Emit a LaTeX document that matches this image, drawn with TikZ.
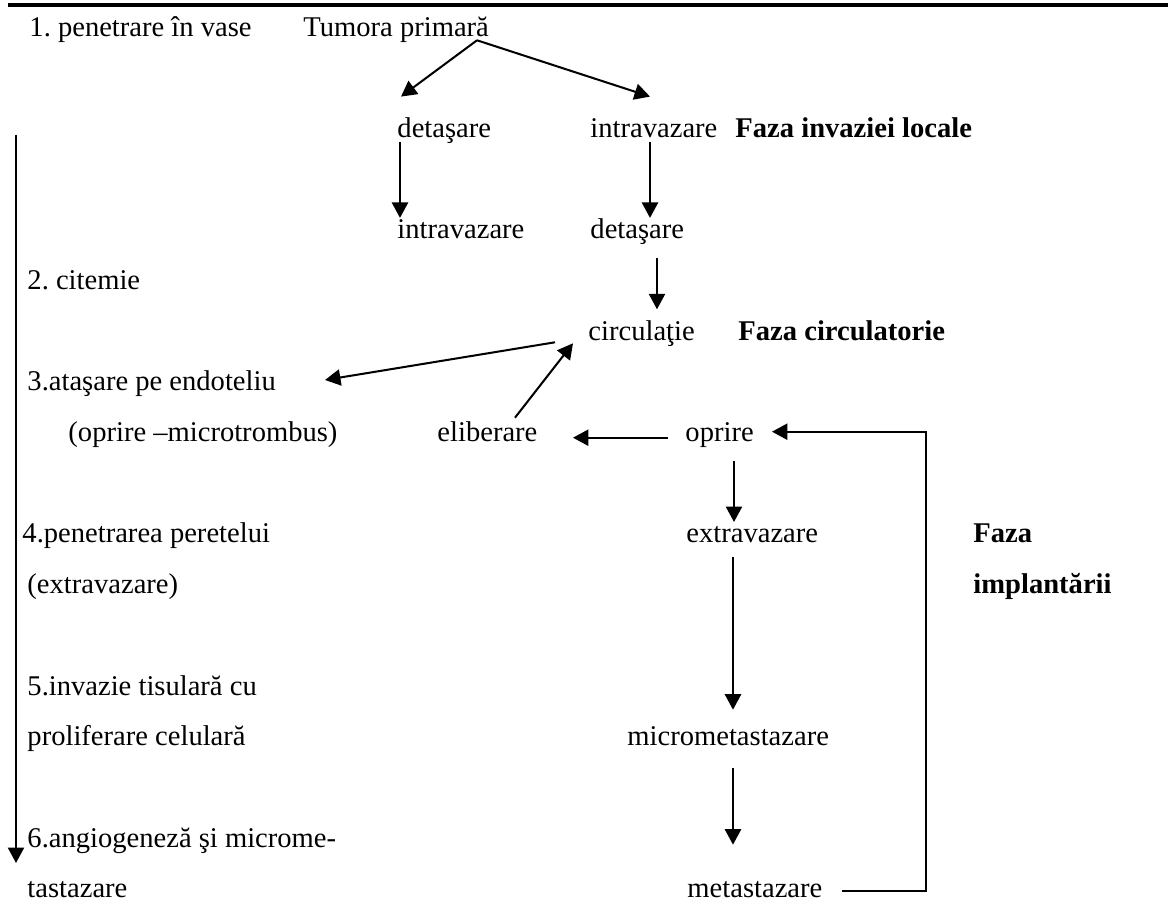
\documentclass[tikz,border=0pt]{standalone}
\usepackage{fontspec}
\setmainfont{Liberation Serif}
\usetikzlibrary{arrows.meta}

\begin{document}
\frenchspacing
\begin{tikzpicture}[x = 0.42pt, y = -0.42pt,
        lbl/.style = {anchor = base west, inner sep = 0pt, font = \fontsize{12}{14}\selectfont},
        faza/.style = {lbl, font = \fontsize{12}{14}\selectfont\bfseries},
        arr/.style = {-{Triangle[length = 6.5pt, width = 6.8pt]}, line width = 0.85pt}]
        \useasboundingbox (0, 0) rectangle (1168, 921);
        \draw [line width = 1.7pt] (8, 5) -- (1168, 5);
        % column of the stages
        \node [lbl] (pen1) at (29, 36.3) {1. penetrare în vase};
        \node [lbl] (cit) at (27, 289.6) {2. citemie};
        \node [lbl] (atas) at (27, 391) {3.ataşare pe endoteliu};
        \node [lbl] (opmicro) at (68, 441.7) {(oprire –microtrombus)};
        \node [lbl] (pen4) at (22, 543) {4.penetrarea peretelui};
        \node [lbl] (extrav4) at (27, 593.7) {(extravazare)};
        \node [lbl] (inv5) at (27, 695.1) {5.invazie tisulară cu};
        \node [lbl] (prolif) at (27, 745.7) {proliferare celulară};
        \node [lbl] (ang6) at (27, 847.1) {6.angiogeneză şi microme-};
        \node [lbl] (tast) at (27, 897.7) {tastazare};
        \coordinate (phtop) at (16, 135);
        \coordinate (phbot) at (16, 863);
        \draw [arr] (phtop) -- (phbot);
        % the scheme
        \node [lbl] (tumora) at (303, 36.3) {Tumora primară};
        \node [lbl] (det1) at (397, 137.6) {detaşare};
        \node [lbl] (intra1) at (590, 137.6) {intravazare};
        \node [lbl] (intra2) at (397, 238.9) {intravazare};
        \node [lbl] (det2) at (590, 238.9) {detaşare};
        \node [lbl] (circ) at (588, 340.3) {circulaţie};
        \node [lbl] (elib) at (437, 441.7) {eliberare};
        \node [lbl] (oprire) at (685, 441.7) {oprire};
        \node [lbl] (extrav) at (686, 543) {extravazare};
        \node [lbl] (micro) at (627, 745.7) {micrometastazare};
        \node [lbl] (meta) at (687, 897.7) {metastazare};
        \node [faza] (fazaloc) at (735, 137.6) {Faza invaziei locale};
        \node [faza] (fazacirc) at (738, 340.3) {Faza circulatorie};
        \node [faza] (fazaimp1) at (973, 543) {Faza};
        \node [faza] (fazaimp2) at (973, 593.7) {implantării};
        \draw [arr] ([shift = {(174, 4)}]tumora.base west) -- ([shift = {(4, -41)}]det1.base west);
        \draw [arr] ([shift = {(174, 4)}]tumora.base west) -- ([shift = {(60, -41)}]intra1.base west);
        \draw [arr] ([shift = {(3, 4)}]det1.base west) -- ([shift = {(3, -21)}]intra2.base west);
        \draw [arr] ([shift = {(60, 4)}]intra1.base west) -- ([shift = {(60, -21)}]det2.base west);
        \draw [arr] ([shift = {(67, 19)}]det2.base west) -- ([shift = {(69, -31)}]circ.base west);
        \draw [arr] ([shift = {(-33, 2)}]circ.base west) -- ([shift = {(298, -11)}]atas.base west);
        \draw [arr] ([shift = {(78, -24)}]elib.base west) -- ([shift = {(-15, 3)}]circ.base west);
        \draw [arr] ([shift = {(-17, -4)}]oprire.base west) -- ([shift = {(136, -4)}]elib.base west);
        \draw [arr] ([shift = {(49, 19)}]oprire.base west) -- ([shift = {(48, -21)}]extrav.base west);
        \draw [arr] ([shift = {(47, 14)}]extrav.base west) -- ([shift = {(106, -36)}]micro.base west);
        \draw [arr] ([shift = {(106, 22)}]micro.base west) -- ([shift = {(46, -53)}]meta.base west);
        \draw [arr] ([shift = {(155, -7)}]meta.base west) -- ++(84, 0) |- ([shift = {(87, -10)}]oprire.base west);
    \end{tikzpicture}
\end{document}
